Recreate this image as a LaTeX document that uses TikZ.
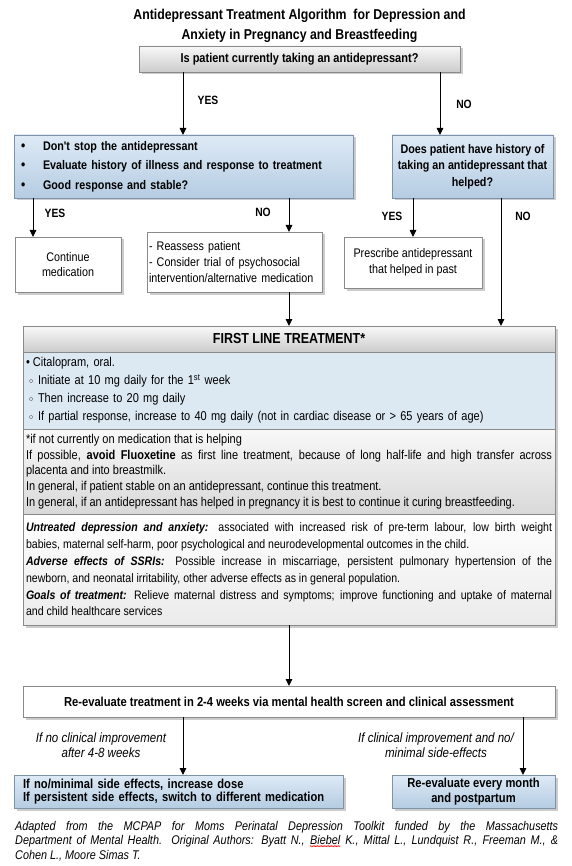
\documentclass[tikz,border=0pt]{standalone}
\usepackage{fontspec}
\setmainfont{Liberation Sans}
\newfontfamily\nar{Liberation Sans}[FakeStretch=0.86]
\usetikzlibrary{arrows.meta,shadows,decorations.pathmorphing}
\definecolor{bTop}{HTML}{DEEAF6}
\definecolor{bBot}{HTML}{B5CCE2}
\definecolor{bLine}{HTML}{7F93A8}
\definecolor{gTop}{HTML}{F8F8F8}
\definecolor{gBot}{HTML}{CCCCCC}
\definecolor{flBlue}{HTML}{DCE8F2}
\definecolor{bGray}{HTML}{8A8A8A}
\newcommand\redwave[1]{\tikz[baseline=(bw.base)]{\node[inner sep=0pt, outer sep=0pt] (bw) {#1};
  \draw[red, line width=0.35pt, decorate, decoration={zigzag, amplitude=0.6pt, segment length=1.4pt}]
    ([yshift=-1.2pt]bw.south west) -- ([yshift=-1.2pt]bw.south east);}}
\newcommand\subb{\hspace*{3pt}\makebox[9pt][l]{\raisebox{1pt}{\fontsize{8}{8}\selectfont$\circ$}}}
\newcommand\nohy{\hyphenpenalty=10000\exhyphenpenalty=10000\tolerance=9999\emergencystretch=0pt}
\begin{document}
\begin{tikzpicture}[x=1pt,y=-1pt,
  box/.style={rectangle, draw=bGray, line width=0.7pt, inner sep=0pt, outer sep=0pt,
    font=\nar\fontsize{12.5}{15.5}\selectfont,
    drop shadow={shadow xshift=2.5pt, shadow yshift=-2.5pt, fill=black!20, opacity=1}},
  bluebox/.style={box, draw=bLine, top color=bTop, bottom color=bBot},
  graybox/.style={box, top color=gTop, bottom color=gBot},
  whitebox/.style={box, fill=white},
  arr/.style={-{Triangle[length=7pt,width=6.5pt]}, line width=0.9pt},
  yn/.style={font=\nar\bfseries\fontsize{12}{13}\selectfont, inner sep=0pt},
  cond/.style={font=\nar\itshape\fontsize{13.4}{15}\selectfont, align=center, inner sep=0pt}]
\useasboundingbox (0,0) rectangle (571,866);

% title
\node[font=\nar\bfseries\fontsize{14.3}{19.5}\selectfont, align=center, inner sep=0pt] (title) at (299.5,26)
  {Antidepressant Treatment Algorithm\ \ for Depression and\\Anxiety in Pregnancy and Breastfeeding};

% question 1
\node[graybox, minimum width=321pt, minimum height=26pt, font=\nar\bfseries\fontsize{12.8}{14}\selectfont] (q1) at (299.5,59)
  {Is patient currently taking an antidepressant?};

% left blue box
\node[bluebox, minimum width=339pt, minimum height=63pt, text width=325pt, align=left,
  font=\nar\bfseries\fontsize{12.5}{19.5}\selectfont] (cur) at (183.5,166.5)
  {\makebox[22pt][l]{\fontsize{14}{14}\selectfont\textbullet}Don't stop the antidepressant\\
   \makebox[22pt][l]{\fontsize{14}{14}\selectfont\textbullet}Evaluate history of illness and response to treatment\\
   \makebox[22pt][l]{\fontsize{14}{14}\selectfont\textbullet}Good response and stable?};

% right blue box
\node[bluebox, minimum width=161pt, minimum height=63pt, align=center,
  font=\nar\bfseries\fontsize{12.5}{16.5}\selectfont] (hist) at (472.5,166.5)
  {Does patient have history of\\taking an antidepressant that\\helped?};

% second row
\node[whitebox, minimum width=106pt, minimum height=55pt, align=center] (cont) at (68,264.5)
  {Continue\\medication};
\node[whitebox, minimum width=175pt, minimum height=60pt, text width=171pt, align=left,
  font=\nar\fontsize{12.5}{16}\selectfont] (reas) at (234.5,262)
  {- Reassess patient\\- Consider trial of psychosocial\\intervention/alternative medication};
\node[whitebox, minimum width=138pt, minimum height=51pt, align=center] (pres) at (413,262.5)
  {Prescribe antidepressant\\that helped in past};

% first line treatment block
\node[graybox, minimum width=532pt, minimum height=26pt, font=\nar\bfseries\fontsize{14.5}{15}\selectfont] (flh) at (289,339)
  {FIRST LINE TREATMENT*};
\node[box, fill=flBlue, minimum width=532pt, minimum height=77pt, text width=526pt, align=left,
  font=\nar\fontsize{12.8}{18}\selectfont] (flb) at (289,390.5)
  {\makebox[7pt][l]{\textbullet}Citalopram, oral.\\
   \subb Initiate at 10 mg daily for the 1\textsuperscript{st} week\\
   \subb Then increase to 20 mg daily\\
   \subb If partial response, increase to 40 mg daily (not in cardiac disease or > 65 years of age)};
\node[box, top color=gTop, bottom color=black!15, minimum width=532pt, minimum height=85pt, text width=526pt, align=justify,
  font=\nar\fontsize{12.8}{15.7}\selectfont\nohy] (flg) at (289,471.5)
  {*if not currently on medication that is helping\\
   If possible, \textbf{avoid Fluoxetine} as first line treatment, because of long half-life and high transfer across\linebreak
   placenta and into breastmilk.\\
   In general, if patient stable on an antidepressant, continue this treatment.\\
   In general, if an antidepressant has helped in pregnancy it is best to continue it curing breastfeeding.};
\node[box, top color=white, bottom color=black!8, minimum width=532pt, minimum height=111pt, text width=526pt, align=justify,
  font=\nar\fontsize{12.3}{16.8}\selectfont\nohy] (flw) at (289,569.5)
  {\textbf{\textit{Untreated depression and anxiety:}} associated with increased risk of pre-term labour, low birth weight\linebreak
   babies, maternal self-harm, poor psychological and neurodevelopmental outcomes in the child.\\
   \textbf{\textit{Adverse effects of SSRIs:}} Possible increase in miscarriage, persistent pulmonary hypertension of the\linebreak
   newborn, and neonatal irritability, other adverse effects as in general population.\\
   \textbf{\textit{Goals of treatment:}} Relieve maternal distress and symptoms; improve functioning and uptake of maternal\linebreak
   and child healthcare services};

% re-evaluate
\node[whitebox, minimum width=532pt, minimum height=31pt, font=\nar\bfseries\fontsize{13}{14}\selectfont] (reev) at (289,701.5)
  {Re-evaluate treatment in 2-4 weeks via mental health screen and clinical assessment};

% bottom boxes
\node[bluebox, minimum width=329pt, minimum height=33pt, text width=311pt, align=left,
  font=\nar\bfseries\fontsize{13}{13.5}\selectfont] (incr) at (178.5,791.5)
  {If no/minimal side effects, increase dose\\If persistent side effects, switch to different medication};
\node[bluebox, minimum width=163pt, minimum height=33pt, align=center,
  font=\nar\bfseries\fontsize{13}{15}\selectfont] (month) at (473.5,791.5)
  {Re-evaluate every month\\and postpartum};

% condition labels
\node[cond] (c1) at (101,745.5) {If no clinical improvement\\after 4-8 weeks};
\node[cond] (c2) at (436,745.5) {If clinical improvement and no/\\minimal side-effects};

% yes / no labels
\node[yn] (y1) at (208,100) {YES};
\node[yn] (n1) at (464,104) {NO};
\node[yn] (y2) at (55,213) {YES};
\node[yn] (n2) at (263,212) {NO};
\node[yn] (y3) at (392,216) {YES};
\node[yn] (n3) at (523,216) {NO};

% x positions of connectors
\coordinate (xa) at (183,0);
\coordinate (xb) at (440,0);
\coordinate (xc) at (33,0);
\coordinate (xd) at (289,0);
\coordinate (xe) at (413,0);
\coordinate (xf) at (501,0);
\coordinate (xg) at (523,0);

\draw[arr] (q1.south -| xa) -- (cur.north -| xa);
\draw[arr] (q1.south -| xb) -- (hist.north -| xb);
\draw[arr] (cur.south -| xc) -- (cont.north -| xc);
\draw[arr] (cur.south -| xd) -- (reas.north -| xd);
\draw[arr] (hist.south -| xe) -- (pres.north -| xe);
\draw[arr] (hist.south -| xf) -- (flh.north -| xf);
\draw[arr] (reas.south -| xd) -- (flh.north -| xd);
\draw[arr] (flw.south -| xd) -- (reev.north -| xd);
\draw[arr] (reev.south -| xa) -- (incr.north -| xa);
\draw[arr] (reev.south -| xg) -- (month.north -| xg);

% footer
\node[anchor=north west, text width=543pt, align=justify, inner sep=0pt,
  font=\nar\itshape\fontsize{12.6}{14.5}\selectfont\nohy] (foot) at (15,821)
  {Adapted from the MCPAP for Moms Perinatal Depression Toolkit funded by the Massachusetts\linebreak
   Department of Mental Health. Original Authors: Byatt N., \redwave{Biebel} K., Mittal L., Lundquist R., Freeman M., \&\linebreak
   Cohen L., Moore Simas T.};
\end{tikzpicture}
\end{document}
